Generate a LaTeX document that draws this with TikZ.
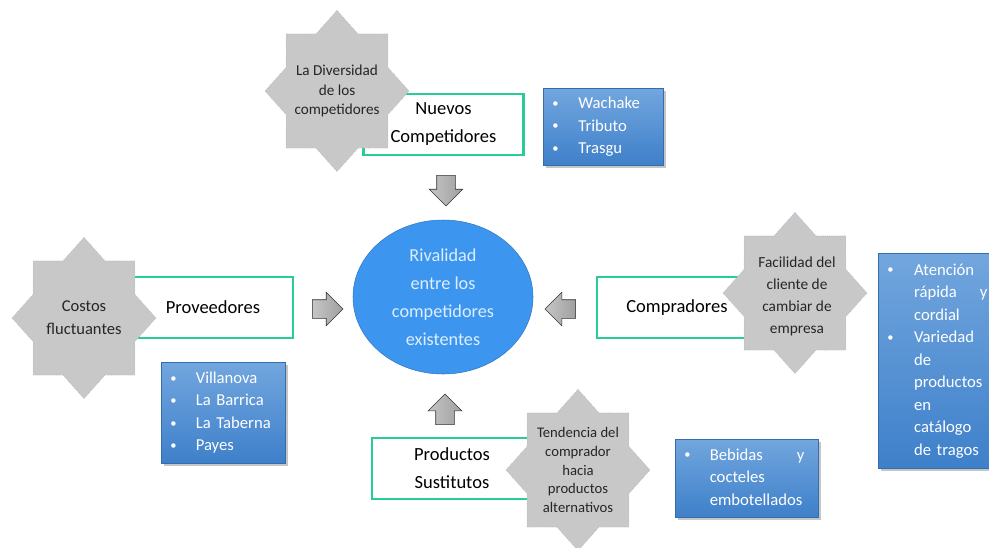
\documentclass[tikz,border=0pt]{standalone}
\usepackage{fontspec}
\setmainfont{Carlito}
\usepackage{tikz}
\usetikzlibrary{positioning, shapes.geometric, shapes.arrows, shadows}
\definecolor{verdeCaja}{RGB}{40,205,150}
\definecolor{grisEstrella}{RGB}{200,200,200}
\definecolor{bordeEstrella}{RGB}{150,182,218}
\definecolor{azulCentro}{RGB}{60,150,240}
\definecolor{azulTexto}{RGB}{222,238,252}
\definecolor{azulClaro}{RGB}{114,166,222}
\definecolor{azulOscuro}{RGB}{62,128,202}
\newcommand{\vineta}{\raisebox{1pt}{\scalebox{0.75}{\textbullet}}}
\tikzset{
    fuerza/.style={rectangle, draw=verdeCaja, line width=1.8pt, fill=white, align=center, minimum width=120pt, minimum height=45.75pt, font=\fontsize{13.9}{21}\selectfont},
    estrella/.style={star, star points=8, star point ratio=1.307, draw=bordeEstrella, densely dotted, thin, fill=grisEstrella, minimum size=108pt, inner sep=0pt, yscale=1.12},
    factor/.style={align=center, inner sep=0pt, font=\fontsize{11.4}{14.5}\selectfont, text=black!85},
    lista/.style={rectangle, top color=azulClaro, bottom color=azulOscuro, draw=azulOscuro!85!black, very thin, drop shadow={shadow xshift=2pt, shadow yshift=-2pt, opacity=0.45}, text=white, font=\fontsize{12.5}{16.9}\selectfont, inner xsep=7pt, inner ysep=2pt, anchor=north west, align=left},
    flecha/.style={single arrow, single arrow head extend=5.6pt, single arrow tip angle=90, inner xsep=0pt, inner ysep=6.75pt, minimum height=23pt, draw=black!80, left color=gray!45, right color=gray!75},
    flechaV/.style={flecha, inner xsep=6.75pt, inner ysep=0pt},
    centro/.style={ellipse, draw=azulCentro!80!black, fill=azulCentro, text=azulTexto, minimum width=135pt, minimum height=115.5pt, align=center, font=\fontsize{13.7}{21}\selectfont}
}
\begin{document}
\begin{tikzpicture}[x=0.75pt, y=-0.75pt]
        \fill[white] (0,0) rectangle (989,547);
        \useasboundingbox (0,0) rectangle (989,547);

        % Centro
        \node[centro] (Rivalidad) at (443,297) {Rivalidad\\entre los\\competidores\\existentes};

        % Flechas hacia el centro
        \node[flechaV, shape border rotate=270] (FlechaN) at (446,186) {};
        \node[flecha] (FlechaP) at (323,309) {};
        \node[flecha, shape border rotate=180] (FlechaC) at (565,309) {};
        \node[flechaV, shape border rotate=90] (FlechaS) at (445,414) {};

        % Fuerzas
        \node[fuerza] (Nuevos) at (443.5,124.5) {Nuevos\\Competidores};
        \node[fuerza] (Proveedores) at (213,307.5) {Proveedores};
        \node[fuerza] (Compradores) at (677,307.5) {Compradores};
        \node[fuerza] (Sustitutos) at (452,468.5) {Productos\\Sustitutos};

        % Factores
        \node[estrella] (EstNuevos) at (337,91) {};
        \node[factor] (TxtNuevos) at (EstNuevos) {La Diversidad\\de los\\competidores};
        \node[estrella] (EstProveedores) at (84,318) {};
        \node[factor, font=\fontsize{12.4}{17}\selectfont] (TxtProveedores) at (EstProveedores) {Costos\\fluctuantes};
        \node[estrella] (EstCompradores) at (795,293) {};
        \node[factor, font=\fontsize{11.5}{16.5}\selectfont] (TxtCompradores) at (797,296) {Facilidad del\\cliente de\\cambiar de\\empresa};
        \node[estrella] (EstSustitutos) at (578,470) {};
        \node[factor, font=\fontsize{11}{13.9}\selectfont] (TxtSustitutos) at (EstSustitutos) {Tendencia del\\comprador\\hacia\\productos\\alternativos};

        % Ejemplos
        \node[lista, minimum width=90pt, minimum height=57.75pt, text width=76pt] (ListaNuevos) at (543,88) {%
            \begin{tabular}{@{}p{19.5pt}@{}l@{}}
            \vineta & Wachake\\
            \vineta & Tributo\\
            \vineta & Trasgu
            \end{tabular}};
        \node[lista, minimum width=93pt, minimum height=75.75pt, text width=79pt] (ListaProveedores) at (161,362) {%
            \begin{tabular}{@{}p{19pt}@{}l@{}}
            \vineta & Villanova\\
            \vineta & La Barrica\\
            \vineta & La Taberna\\
            \vineta & Payes
            \end{tabular}};
        \node[lista, minimum width=91.5pt, minimum height=161.25pt, text width=77.5pt] (ListaCompradores) at (878,253) {%
            \begin{tabular}{@{}p{20pt}@{}p{55pt}@{}}
            \vineta & Atención\\
                    & rápida\hfill y\\
                    & cordial\\
            \vineta & Variedad\\
                    & de\\
                    & productos\\
                    & en\\
                    & catálogo\\
                    & de tragos
            \end{tabular}};
        \node[lista, minimum width=107.25pt, minimum height=58.5pt, text width=93.25pt] (ListaSustitutos) at (675,439) {%
            \begin{tabular}{@{}p{19pt}@{}p{71pt}@{}}
            \vineta & Bebidas\hfill y\\
                    & cocteles\\
                    & embotellados
            \end{tabular}};
    \end{tikzpicture}
\end{document}
